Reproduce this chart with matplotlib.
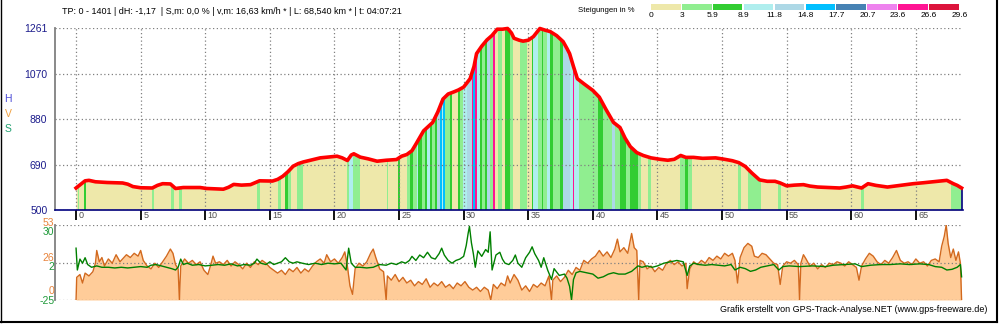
import matplotlib
matplotlib.use("Agg")
import matplotlib.pyplot as plt
from matplotlib.lines import Line2D
from matplotlib.patches import PathPatch
from matplotlib.transforms import offset_copy

plt.rcParams['font.family'] = ['Liberation Sans', 'DejaVu Sans']

# --- elevation profile (km, m) ---
elev_km = [0.0, 0.3, 0.7, 1.0, 1.5, 2.4, 3.6, 4.0, 4.4, 5.0, 5.9, 6.3, 6.7, 7.3, 7.7, 8.0, 8.3,
           9.6, 10.1, 11.4, 11.8, 12.2, 12.8, 13.5, 14.2, 15.2, 15.6, 16.0, 16.4, 16.8, 17.2, 17.6,
           18.3, 18.9, 20.2, 20.6, 21.0, 21.3, 21.5, 22.0, 22.6, 23.3, 24.0, 24.8, 25.2, 25.6, 26.0,
           26.3, 26.9, 27.6, 28.0, 28.4, 28.8, 29.2, 29.6, 30.0, 30.5, 30.8, 31.0, 31.4, 31.8, 32.2,
           32.6, 33.0, 33.4, 33.7, 33.9, 34.3, 34.6, 35.0, 35.4, 35.9, 36.3, 36.7, 37.2, 37.7, 38.0,
           38.2, 38.5, 38.8, 39.3, 39.7, 40.0, 40.5, 41.0, 41.6, 42.1, 42.5, 42.9, 43.4, 43.9, 44.5,
           45.2, 45.8, 46.3, 46.8, 47.2, 47.8, 48.5, 49.5, 50.2, 50.8, 51.3, 51.8, 52.3, 52.9, 53.5,
           54.1, 54.5, 55.0, 55.6, 56.3, 56.8, 57.4, 58.2, 59.1, 59.6, 60.1, 60.8, 61.3, 61.9, 62.8,
           63.5, 64.2, 64.8, 65.6, 66.5, 67.0, 67.4, 67.9, 68.2, 68.54]
elev_m = [592, 605, 622, 624, 618, 615, 613, 608, 598, 593, 592, 603, 610, 609, 590, 592, 594,
          594, 590, 587, 595, 607, 604, 606, 622, 621, 628, 641, 660, 683, 694, 701,
          710, 718, 725, 718, 707, 730, 735, 721, 714, 704, 708, 711, 725, 732, 748,
          775, 831, 866, 910, 964, 985, 993, 1002, 1014, 1049, 1100, 1154, 1185, 1211, 1230,
          1256, 1256, 1259, 1240, 1218, 1210, 1206, 1210, 1225, 1259, 1252, 1246, 1229, 1204, 1175,
          1154, 1100, 1049, 1028, 1012, 1000, 972, 922, 866, 845, 800, 765, 740, 728, 718,
          712, 708, 712, 728, 720, 720, 716, 718, 712, 706, 698, 682, 655, 626, 620,
          620, 613, 601, 604, 606, 600, 596, 594, 592, 596, 601, 592, 610, 603, 596,
          601, 606, 610, 614, 619, 622, 624, 610, 603, 592]

# --- slope classes along the track (start km, end km, class) ---
slope_bands = [
    (0.15, 0.25, 1), (0.6, 0.8, 2), (5.86, 6.04, 1), (7.35, 7.6, 1), (8.0, 8.2, 1),
    (14.0, 14.25, 1), (15.65, 15.85, 1), (16.2, 16.4, 2), (16.4, 16.6, 1), (17.1, 17.55, 1),
    (20.95, 21.15, 1), (21.15, 21.45, 3), (21.45, 22.0, 1), (24.05, 24.15, 1), (24.9, 25.1, 2),
    (25.59, 25.85, 1), (25.85, 26.11, 2), (26.11, 26.37, 1), (26.37, 26.5, 3), (26.5, 26.76, 2),
    (26.76, 27.01, 1), (27.01, 27.14, 2), (27.14, 27.4, 3), (27.4, 27.53, 2), (27.53, 27.79, 1),
    (27.79, 27.97, 2), (27.97, 28.17, 4), (28.17, 28.3, 5), (28.3, 28.43, 3), (28.43, 28.56, 5),
    (28.56, 28.95, 1), (28.95, 29.08, 2), (29.59, 29.72, 2), (29.72, 29.98, 1), (29.98, 30.24, 3),
    (30.24, 30.63, 4), (30.63, 30.75, 8), (30.75, 30.88, 5), (30.88, 31.01, 8), (31.01, 31.27, 3),
    (31.27, 31.4, 2), (31.4, 31.66, 1), (31.66, 31.79, 2), (31.79, 32.04, 4), (32.04, 32.3, 1),
    (32.3, 32.43, 8), (32.69, 32.95, 1), (33.2, 33.59, 2), (33.59, 33.85, 1), (34.37, 34.88, 1),
    (35.27, 35.4, 2), (35.4, 35.79, 3), (35.79, 36.04, 1), (36.04, 36.17, 2), (36.17, 36.43, 1),
    (36.43, 36.69, 3), (36.69, 36.95, 2), (36.95, 37.46, 1), (37.46, 37.72, 2), (37.72, 38.24, 4),
    (38.24, 38.44, 3), (38.44, 38.57, 8), (38.57, 38.96, 3), (38.96, 40.43, 1), (40.43, 40.82, 2),
    (40.82, 41.46, 1), (41.46, 41.72, 4), (41.72, 42.1, 1), (42.1, 42.6, 2), (42.6, 42.9, 1),
    (42.9, 43.5, 2), (43.5, 43.7, 1), (44.3, 44.5, 1), (46.75, 47.1, 1), (47.15, 47.4, 2),
    (47.4, 47.7, 1), (51.2, 51.45, 1), (52.0, 53.0, 1), (54.35, 54.6, 1), (60.75, 61.0, 1),
    (67.7, 68.54, 1),
]

slope_colors = ['#eee8aa', '#90ee90', '#32cd32', '#afeeee', '#add8e6', '#00bfff',
                '#4682b4', '#ee82ee', '#ff1493', '#dc143c']
slope_steps = ['0', '3', '5.9', '8.9', '11.8', '14.8', '17.7', '20.7', '23.6', '26.6', '29.6']

# --- speed (km/h) along the track ---
speed_km = [0.0, 0.05, 0.3, 0.5, 0.7, 1.0, 1.3, 1.5, 1.6, 1.8, 2.0, 2.2, 2.5, 2.8, 3.1, 3.4, 3.7, 3.9,
            4.2, 4.5, 4.8, 5.0, 5.2, 5.5, 5.8, 6.1, 6.4, 6.7, 7.0, 7.3, 7.5, 7.7, 7.9, 8.0, 8.1, 8.4,
            8.7, 9.0, 9.3, 9.6, 9.9, 10.2, 10.4, 10.6, 10.8, 11.1, 11.4, 11.7, 12.0, 12.3, 12.6, 12.9,
            13.2, 13.5, 13.8, 14.1, 14.4, 14.7, 15.0, 15.3, 15.6, 15.9, 16.2, 16.5, 16.8, 17.1, 17.4,
            17.7, 18.0, 18.3, 18.6, 18.9, 19.2, 19.4, 19.7, 20.0, 20.3, 20.6, 20.8, 21.0, 21.2, 21.4,
            21.6, 21.9, 22.2, 22.5, 22.8, 23.0, 23.2, 23.5, 23.8, 24.0, 24.1, 24.4, 24.7, 25.0, 25.3,
            25.6, 25.9, 26.2, 26.5, 26.8, 27.1, 27.4, 27.7, 28.0, 28.3, 28.6, 28.9, 29.2, 29.5, 29.8,
            30.1, 30.4, 30.7, 31.0, 31.3, 31.6, 31.9, 32.1, 32.3, 32.6, 32.9, 33.2, 33.4, 33.6, 33.9,
            34.2, 34.5, 34.8, 35.1, 35.4, 35.7, 36.0, 36.3, 36.6, 36.8, 36.9, 37.2, 37.5, 37.8, 38.1,
            38.4, 38.7, 39.0, 39.3, 39.6, 39.9, 40.2, 40.5, 40.8, 41.1, 41.4, 41.7, 41.9, 42.1, 42.4,
            42.7, 43.0, 43.2, 43.4, 43.55, 43.65, 43.9, 44.2, 44.5, 44.8, 45.1, 45.4, 45.7, 46.0,
            46.3, 46.6, 46.9, 47.2, 47.3, 47.5, 47.8, 48.1, 48.4, 48.7, 49.0, 49.3, 49.6, 49.9, 50.2,
            50.5, 50.8, 51.0, 51.2, 51.4, 51.7, 52.0, 52.3, 52.5, 52.8, 53.1, 53.4, 53.7, 54.0, 54.3,
            54.5, 54.7, 55.0, 55.3, 55.6, 55.9, 56.0, 56.1, 56.3, 56.5, 56.8, 57.1, 57.4, 57.7, 58.0,
            58.3, 58.6, 58.9, 59.2, 59.5, 59.8, 60.1, 60.4, 60.6, 60.8, 61.1, 61.4, 61.7, 62.0, 62.3,
            62.6, 62.9, 63.2, 63.5, 63.8, 64.1, 64.4, 64.7, 65.0, 65.3, 65.6, 65.9, 66.2, 66.5, 66.8,
            67.0, 67.2, 67.35, 67.5, 67.7, 67.9, 68.1, 68.3, 68.45, 68.54]
speed_kmh = [0, 16, 18, 12, 19, 17, 20, 26, 35, 27, 30, 24, 29, 26, 32, 27, 30, 32,
             30, 33, 31, 35, 28, 24, 22, 26, 23, 27, 31, 36, 33, 25, 22, 0, 24, 29,
             26, 28, 25, 27, 21, 18, 24, 31, 26, 27, 25, 28, 24, 27, 25, 22,
             26, 23, 27, 25, 28, 26, 23, 21, 19, 21, 18, 22, 20, 23, 19,
             22, 20, 24, 27, 29, 26, 32, 27, 29, 26, 30, 34, 24, 10, 4,
             22, 26, 24, 27, 33, 36, 30, 22, 20, 0, 17, 14, 18, 13, 16,
             12, 14, 10, 13, 11, 15, 9, 12, 10, 13, 9, 11, 8, 12, 10,
             13, 9, 7, 9, 6, 9, 7, 0, 11, 8, 12, 10, 17, 12, 18,
             14, 7, 10, 6, 11, 9, 12, 10, 17, 0, 14, 17, 13, 16, 21,
             18, 23, 21, 28, 26, 29, 31, 35, 31, 34, 30, 36, 43, 34, 37,
             33, 47, 37, 35, 0, 28, 27, 22, 24, 20, 23, 21, 26, 28,
             25, 27, 24, 26, 8, 22, 27, 25, 28, 26, 30, 28, 31, 29, 33,
             31, 33, 28, 12, 30, 37, 40, 38, 31, 30, 33, 32, 29, 26, 25,
             11, 24, 27, 26, 28, 25, 0, 26, 32, 29, 24, 26, 22, 25, 23,
             26, 25, 27, 26, 24, 27, 25, 23, 14, 24, 29, 33, 31, 27, 25,
             28, 26, 30, 35, 28, 26, 27, 25, 29, 26, 27, 24, 28, 29, 27,
             38, 45, 53, 40, 30, 36, 28, 34, 26, 0]

# --- slope (%) along the track ---
grade_km = [0.0, 0.1, 0.3, 0.5, 0.7, 0.9, 1.2, 1.6, 2.0, 2.5, 3.0, 3.5, 4.0, 4.5, 5.0, 5.5, 5.8,
            6.2, 6.6, 7.0, 7.4, 7.7, 7.9, 8.1, 8.3, 8.6, 9.0, 9.5, 10.0, 10.5, 11.0, 11.5, 12.0,
            12.5, 13.0, 13.5, 13.8, 14.0, 14.3, 14.7, 15.0, 15.3, 15.6, 15.9, 16.2, 16.5, 16.8,
            17.1, 17.5, 18.0, 18.5, 19.0, 19.5, 20.0, 20.5, 20.9, 21.1, 21.3, 21.6, 22.0, 22.5,
            23.0, 23.5, 24.0, 24.4, 24.8, 25.2, 25.5, 25.8, 26.0, 26.3, 26.6, 26.9, 27.2, 27.5,
            27.8, 28.1, 28.3, 28.5, 28.8, 29.1, 29.4, 29.7, 30.0, 30.2, 30.35, 30.45, 30.6, 30.75,
            30.9, 31.1, 31.4, 31.7, 31.9, 32.05, 32.2, 32.5, 32.8, 33.0, 33.2, 33.5, 33.8, 34.0,
            34.2, 34.5, 34.8, 35.1, 35.3, 35.5, 35.8, 36.0, 36.2, 36.5, 36.8, 37.0, 37.4, 37.8,
            38.0, 38.2, 38.35, 38.5, 38.7, 39.0, 39.5, 40.0, 40.4, 40.8, 41.2, 41.6, 42.0, 42.5,
            43.0, 43.5, 43.8, 44.2, 44.6, 45.0, 45.5, 46.0, 46.5, 47.0, 47.3, 47.5, 47.8, 48.2,
            48.7, 49.2, 49.7, 50.2, 50.7, 51.0, 51.4, 51.8, 52.2, 52.6, 53.0, 53.5, 54.0, 54.4,
            54.7, 55.2, 56.0, 57.0, 58.0, 58.6, 59.5, 60.3, 60.8, 61.5, 62.3, 63.0, 63.8, 64.5,
            65.3, 66.0, 66.5, 67.0, 67.4, 67.8, 68.2, 68.45, 68.54]
grade_pct = [13, -3, 5, 2, 6, 1, -1, 0, -1, -1, -1.5, -1, -1.5, -1, -0.5, -1, 0.5,
             1, 0, -1, -2, -3, -1, 5, 1, 2, 0.5, 1, 0, 0.5, 1, 0.5, 1.5,
             0, 1, 0.5, 2, 5, 2, 1, 3, 1, 2, 3, 6, 3, 2,
             3, 2, 1, 2, 1, 2, 1.5, 2, -3, 13, 2, -1, -1, -1.5,
             -1, 1, 0.5, 2, 1, 3, 2, 4, 7, 4, 8, 6, 10, 6,
             5, 9, 13, 8, 4, 2, 4, 5, 7, 15, 24, 29, 17, 9,
             -1, 11, 7, 12, 10, 25, -3, 8, 10, 5, 2, 1, 4, 8,
             2, -1, 6, 10, 14, 9, 4, -1, 6, -3, -10, -2, -7, -6,
             -9, -15, -25, -10, -5, -4, -5, -6, -9, -8, -6, -5, -6, -6,
             -4, 0, -1, 0, -1, 0, 2, 3, 4, 3, -7, 0, 2, 1,
             0.5, 1, 0.5, 0, 1, -3, -1, -2, -4, -3, -1, 0, 1, -3,
             -0.5, 0, -0.5, 0, -0.5, 0.5, 1, 1.5, -0.5, 0.5, 1, 1, 1.5, 1,
             1.5, 1, -0.5, -1, -3, -2.5, -1, 1, -8]

dist_ticks = list(range(0, 70, 5))
elev_ticks = [500, 690, 880, 1070, 1261]

header = ("TP: 0 - 1401 | dH: -1,17  | S,m: 0,0 % | v,m: 16,63 km/h * | "
          "L: 68,540 km * | t: 04:07:21")
footer = "Grafik erstellt von GPS-Track-Analyse.NET (www.gps-freeware.de)"

W, H = 1000, 325


def fx(px):
    return px / W


def fy(py):
    return 1 - py / H


grid_style = dict(color='#808080', linestyle=(0, (1, 2)), linewidth=0.9)
x0, x1 = -1.63, 68.65

fig = plt.figure(figsize=(10, 3.25), dpi=100)
fig.patch.set_facecolor('white')

# ---------- elevation panel ----------
ax = fig.add_axes([fx(55), fy(210), fx(963) - fx(55), fy(28) - fy(210)])
ax.set_xlim(x0, x1)
ax.set_ylim(500, 1261)

base = ax.fill_between(elev_km, 500, elev_m, color=slope_colors[0], linewidth=0, zorder=2)
clip = PathPatch(base.get_paths()[0], transform=ax.transData, facecolor='none', edgecolor='none')
ax.add_patch(clip)
for start, end, cls in slope_bands:
    span = ax.axvspan(start, end, color=slope_colors[cls], linewidth=0, zorder=2)
    span.set_clip_path(clip)

ax.vlines(elev_km[-1], 500, elev_m[-1], color='#000080', linewidth=1.2, zorder=3)
ax.plot(elev_km, elev_m, color='#ff0000', linewidth=2.6, zorder=5, clip_on=False)

ax.set_yticks(elev_ticks)
ax.set_xticks(dist_ticks)
ax.grid(True, zorder=1, **grid_style)
ax.set_axisbelow(False)
for s in ['top', 'right']:
    ax.spines[s].set_visible(False)
ax.spines['left'].set_color('#808080')
ax.spines['left'].set_linewidth(1.3)
ax.spines['bottom'].set_color('#000080')
ax.spines['bottom'].set_linestyle((0, (1, 1)))
ax.spines['bottom'].set_linewidth(1.2)
ax.spines['bottom'].set_zorder(6)
ax.tick_params(axis='y', length=0, pad=5.5, labelsize=7.5, labelcolor='#1c1c8c')
ax.tick_params(axis='x', length=7, width=1.3, color='black', labelbottom=False)
lab_tr = offset_copy(ax.get_xaxis_transform(), fig=fig, x=2.5, y=-5.5, units='dots')
for t in dist_ticks:
    ax.text(t, 0, str(t), transform=lab_tr, ha='left', va='center',
            fontsize=6.5, color='#505050')

# ---------- speed / slope panel ----------
bx = fig.add_axes([fx(55), fy(300), fx(963) - fx(55), fy(225) - fy(300)])
bx.set_xlim(x0, x1)
bx.set_ylim(0, 53)
bx.fill_between(speed_km, 0, speed_kmh, color='#ffcc99', linewidth=0, zorder=2)
bx.plot(speed_km, speed_kmh, color='#d2691e', linewidth=1.0, zorder=3)
bx.set_yticks([0, 26.5, 53])
bx.yaxis.grid(True, zorder=1, **grid_style)
bx.set_axisbelow(False)
bx.set_xticks([])
bx.tick_params(axis='y', length=0, labelleft=False)
for s in ['top', 'right', 'bottom']:
    bx.spines[s].set_visible(False)
bx.spines['left'].set_color('#808080')
bx.spines['left'].set_linewidth(1.3)

gx = bx.twinx()
gx.set_ylim(-25, 30)
gx.plot(grade_km, grade_pct, color='#008000', linewidth=1.0, zorder=4)
gx.axis('off')

orange, green = '#e8843c', '#1f9a3a'
for txt, py, col in [('53', 223.3, orange), ('30', 231.7, green), ('26', 258, orange),
                     ('2', 266.5, green), ('0', 291.5, orange), ('-25', 301, green)]:
    fig.text(fx(54.5), fy(py), txt, ha='right', va='center', fontsize=7.5, color=col)

fig.text(fx(8), fy(99), 'H', ha='center', va='center', fontsize=7.5, color='#4b4bd6')
fig.text(fx(8), fy(114), 'V', ha='center', va='center', fontsize=7.5, color='#f0a040')
fig.text(fx(8), fy(129), 'S', ha='center', va='center', fontsize=7.5, color='#20a070')

# ---------- header, slope legend, footer ----------
fig.text(fx(62), fy(12), header, ha='left', va='center', fontsize=6.5, color='black')
fig.text(fx(578), fy(11), 'Steigungen in %', ha='left', va='center', fontsize=5.6, color='black')

leg = fig.add_axes([fx(651), fy(9.5), fx(960) - fx(651), fy(3.5) - fy(9.5)])
leg.bar(range(len(slope_colors)), [1] * len(slope_colors), width=0.96, align='edge',
        color=slope_colors, linewidth=0)
leg.set_xlim(0, len(slope_colors))
leg.set_ylim(0, 1)
leg.axis('off')
for i, lab in enumerate(slope_steps):
    leg.text(i, -0.95, lab, ha='center', va='center', fontsize=6, color='black', clip_on=False)

fig.text(fx(987), fy(310), footer, ha='right', va='center', fontsize=6.5, color='black')

# outer frame (left, right, bottom)
fig.add_artist(Line2D([fx(0.5), fx(0.5)], [fy(0), fy(322)], transform=fig.transFigure,
                      color='black', linewidth=1.0))
fig.add_artist(Line2D([fx(996.5), fx(996.5)], [fy(0), fy(322)], transform=fig.transFigure,
                      color='black', linewidth=1.5))
fig.add_artist(Line2D([fx(0), fx(997)], [fy(321.5), fy(321.5)], transform=fig.transFigure,
                      color='black', linewidth=1.5))

fig.savefig('out.png', dpi=100)
